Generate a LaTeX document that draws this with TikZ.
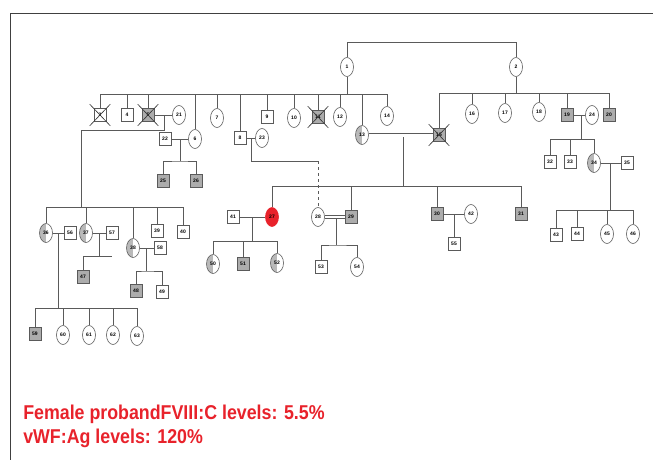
\documentclass[tikz,border=0pt]{standalone}
\usepackage{fontspec}
\setmainfont{Liberation Sans}
\usetikzlibrary{shapes.geometric}
\definecolor{inkred}{HTML}{E8222B}
\definecolor{lineg}{HTML}{5A5A5A}
\begin{document}
\begin{tikzpicture}[
    x=1pt, y=-1pt,
    line width=0.6pt,
    color=lineg,
    every node/.style={text=black, font=\fontsize{5}{5}\selectfont\bfseries},
    male/.style={draw=lineg, rectangle, minimum width=12pt, minimum height=13pt, inner sep=0pt},
    female/.style={draw=lineg, ellipse, minimum width=13pt, minimum height=19pt, inner sep=0pt},
    hit/.style={fill=gray!65},
    carrier/.style={path picture={\fill[gray!55] (path picture bounding box.south west) rectangle (path picture bounding box.north);}},
    proband/.style={fill=inkred, draw=inkred}
]
    \useasboundingbox (0,0) rectangle (653,460);

    % --- FRAME ---
    \draw[line width=0.8pt, black!75] (10,460) -- (10,13) -- (653,13);

    % --- GENERATION I ---
    \node[female] (p1) at (347,67) {1};
    \node[female] (p2) at (516,67) {2};
    \coordinate (c12) at (431,42);
    \draw (p1.north) -- (p1 |- c12) -- (p2 |- c12) -- (p2.north);

    % --- CHILDREN OF 1 ---
    \node[male] (p3) at (100,115) {3};
    \node[male] (p4) at (127,115) {4};
    \node[male, hit] (p5) at (148,115) {5};
    \node[female] (p21) at (179,115) {21};
    \node[female] (p6) at (195,139) {6};
    \node[male] (p22) at (165,139) {22};
    \node[female] (p7) at (217,118) {7};
    \node[male] (p8) at (240,138) {8};
    \node[female] (p23) at (262,138) {23};
    \node[male] (p9) at (267,117) {9};
    \node[female] (p10) at (294,118) {10};
    \node[male, hit] (p11) at (318,117) {11};
    \node[female] (p12) at (340,117) {12};
    \node[female, carrier] (p13) at (362,135) {13};
    \node[female] (p14) at (387,116) {14};

    \coordinate (s1) at (347,94);
    \draw (p1.south) -- (s1);
    \draw (p3 |- s1) -- (p14 |- s1);
    \foreach \who in {p3,p4,p5,p6,p7,p8,p9,p10,p11,p12,p13,p14}
        \draw (\who |- s1) -- (\who.north);

    % --- CHILDREN OF 2 ---
    \node[male, hit] (p15) at (439,135) {15};
    \node[female] (p16) at (472,114) {16};
    \node[female] (p17) at (505,113) {17};
    \node[female] (p18) at (539,112) {18};
    \node[male, hit] (p19) at (567,115) {19};
    \node[female] (p24) at (592,115) {24};
    \node[male, hit] (p20) at (609,115) {20};

    \coordinate (s2) at (516,93);
    \draw (p2.south) -- (s2);
    \draw (p15 |- s2) -- (p20 |- s2);
    \foreach \who in {p15,p16,p17,p18,p19,p20}
        \draw (\who |- s2) -- (\who.north);

    % deceased marks
    \foreach \who in {p3,p5,p11,p15} {
        \draw[black!80] ([shift={(-4pt,-4pt)}]\who.south west) -- ([shift={(4pt,4pt)}]\who.north east);
        \draw[black!80] ([shift={(-4pt,4pt)}]\who.north west) -- ([shift={(4pt,-4pt)}]\who.south east);
    }

    % --- 5 x 21 ---
    \draw (p5) -- (p21);
    \coordinate (m5) at (164,115);
    \coordinate (s5) at (81,207);
    \draw (m5) -- (164,130) -| (s5);

    \node[female, carrier] (p36) at (46,233) {36};
    \node[male] (p56) at (70,233) {56};
    \node[female, carrier] (p37) at (86,233) {37};
    \node[male] (p57) at (112,233) {57};
    \node[female, carrier] (p38) at (133,248) {38};
    \node[male] (p58) at (160,248) {58};
    \node[male] (p39) at (157,231) {39};
    \node[male] (p40) at (183,232) {40};
    \draw (p36 |- s5) -- (p40 |- s5);
    \foreach \who in {p36,p37,p38,p39,p40}
        \draw (\who |- s5) -- (\who.north);

    % 36 x 56
    \draw (p36) -- (p56);
    \coordinate (m36) at (58,233);
    \coordinate (s36) at (58,308);
    \draw (m36) -- (s36);
    \node[male, hit] (p59) at (35,334) {59};
    \node[female] (p60) at (63,335) {60};
    \node[female] (p61) at (89,335) {61};
    \node[female] (p62) at (113,335) {62};
    \node[female] (p63) at (137,336) {63};
    \draw (p59 |- s36) -- (p63 |- s36);
    \foreach \who in {p59,p60,p61,p62,p63}
        \draw (\who |- s36) -- (\who.north);

    % 37 x 57
    \draw (p37) -- (p57);
    \coordinate (m37) at (99,233);
    \coordinate (s37) at (112,256);
    \node[male, hit] (p47) at (83,277) {47};
    \draw (m37) -- (99,256);
    \draw (p47.north) |- (s37);

    % 38 x 58
    \draw (p38) -- (p58);
    \coordinate (m38) at (146,248);
    \coordinate (s38) at (146,271);
    \draw (m38) -- (s38);
    \node[male, hit] (p48) at (136,291) {48};
    \node[male] (p49) at (162,292) {49};
    \draw (p48.north) |- (s38) -| (p49.north);

    % --- 22 x 6 ---
    \draw (p22) -- (p6);
    \coordinate (m22) at (180,139);
    \coordinate (s22) at (180,161);
    \draw (m22) -- (s22);
    \node[male, hit] (p25) at (163,181) {25};
    \node[male, hit] (p26) at (196,181) {26};
    \draw (p25.north) |- (s22) -| (p26.north);

    % --- 8 x 23 ---
    \draw (p8) -- (p23);
    \coordinate (m8) at (251,138);
    \coordinate (k8) at (318,161);
    \draw (m8) |- (k8);
    \node[female] (p28) at (318,217) {28};
    \draw[dashed] (k8) -- (p28.north);

    % --- 13 = 15 ---
    \draw[double=white, double distance=3pt] (p13) -- (p15);
    \coordinate (m13) at (403,137);
    \coordinate (s13) at (403,186);
    \draw (m13) -- (s13);
    \node[female, proband] (p27) at (272,217) {27};
    \node[male, hit] (p29) at (351,217) {29};
    \node[male, hit] (p30) at (437,214) {30};
    \node[male, hit] (p31) at (521,214) {31};
    \draw (p27 |- s13) -- (p31 |- s13);
    \foreach \who in {p27,p29,p30,p31}
        \draw (\who |- s13) -- (\who.north);

    % 41 x 27
    \node[male] (p41) at (233,217) {41};
    \draw (p41) -- (p27);
    \coordinate (m41) at (252,217);
    \coordinate (s41) at (252,241);
    \draw (m41) -- (s41);
    \node[female, carrier] (p50) at (213,264) {50};
    \node[male, hit] (p51) at (243,264) {51};
    \node[female, carrier] (p52) at (277,263) {52};
    \draw (p50 |- s41) -- (p52 |- s41);
    \foreach \who in {p50,p51,p52}
        \draw (\who |- s41) -- (\who.north);

    % 28 = 29
    \draw[double=white, double distance=2pt] (p28) -- (p29);
    \coordinate (m28) at (336,218);
    \coordinate (s28) at (336,245);
    \draw (m28) -- (s28);
    \node[male] (p53) at (321,267) {53};
    \node[female] (p54) at (357,267) {54};
    \draw (p53.north) |- (s28) -| (p54.north);

    % 30 x 42
    \node[female] (p42) at (471,214) {42};
    \draw (p30) -- (p42);
    \node[male] (p55) at (454,244) {55};
    \draw (454,214) -- (p55.north);

    % --- 19 x 24 ---
    \draw (p19) -- (p24);
    \coordinate (m19) at (581,115);
    \coordinate (s19) at (581,139);
    \draw (m19) -- (s19);
    \node[male] (p32) at (550,162) {32};
    \node[male] (p33) at (570,162) {33};
    \node[female, carrier] (p34) at (594,163) {34};
    \node[male] (p35) at (627,163) {35};
    \draw (p32 |- s19) -- (p34 |- s19);
    \foreach \who in {p32,p33,p34}
        \draw (\who |- s19) -- (\who.north);

    % 34 x 35
    \draw (p34) -- (p35);
    \coordinate (m34) at (610,163);
    \coordinate (s34) at (610,210);
    \draw (m34) -- (s34);
    \node[male] (p43) at (556,235) {43};
    \node[male] (p44) at (577,234) {44};
    \node[female] (p45) at (607,234) {45};
    \node[female] (p46) at (633,234) {46};
    \draw (p43 |- s34) -- (p46 |- s34);
    \foreach \who in {p43,p44,p45,p46}
        \draw (\who |- s34) -- (\who.north);

    % --- NOTE ---
    \node[anchor=base west, text=inkred, inner sep=0pt, xscale=0.89,
          font=\fontsize{20}{24}\selectfont\bfseries] (note1) at (23,419) {Female probandFVIII:C levels: 5.5\%};
    \node[anchor=base west, text=inkred, inner sep=0pt, xscale=0.89,
          font=\fontsize{20}{24}\selectfont\bfseries] (note2) at (23,443) {vWF:Ag levels: 120\%};

\end{tikzpicture}
\end{document}
